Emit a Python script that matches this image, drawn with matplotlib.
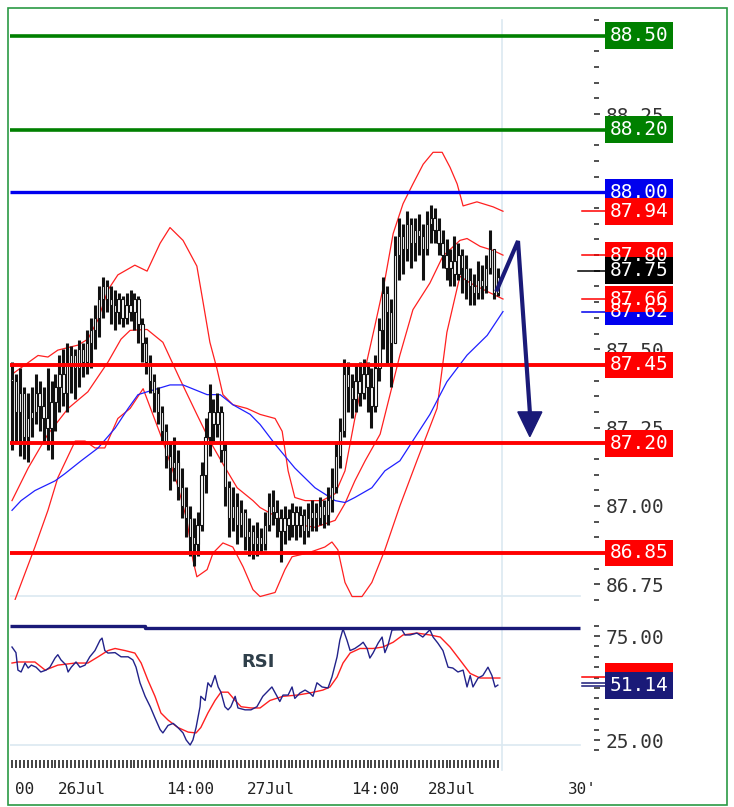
import numpy as np
import matplotlib
matplotlib.use('Agg')
import matplotlib.pyplot as plt
from matplotlib.patches import Rectangle, Polygon
from matplotlib.lines import Line2D
import matplotlib.transforms as mtransforms

plt.rcParams['font.family'] = ['DejaVu Sans Mono', 'DejaVu Sans']

# 30 minute bars, index 0 .. 123
closes = [87.40, 87.30, 87.36, 87.22, 87.28, 87.30, 87.36, 87.32, 87.28, 87.25,
          87.33, 87.38, 87.42, 87.36, 87.45, 87.48, 87.44, 87.50, 87.46, 87.52,
          87.56, 87.60, 87.66, 87.70, 87.66, 87.64, 87.62, 87.66, 87.60, 87.64,
          87.62, 87.66, 87.58, 87.52, 87.46, 87.40, 87.36, 87.30, 87.24, 87.16,
          87.12, 87.14, 87.06, 87.00, 86.96, 86.90, 86.88, 86.94, 87.10, 87.22,
          87.30, 87.26, 87.30, 87.18, 87.06, 86.96, 87.00, 86.94, 86.98, 86.90,
          86.92, 86.88, 86.90, 86.88, 86.94, 87.00, 86.98, 86.96, 86.92, 86.96,
          86.94, 86.98, 86.94, 86.97, 86.92, 86.96, 86.98, 86.96, 87.00, 86.97,
          87.02, 87.06, 87.16, 87.24, 87.42, 87.38, 87.34, 87.40, 87.36, 87.42,
          87.38, 87.32, 87.44, 87.56, 87.68, 87.62, 87.52, 87.80, 87.86, 87.82,
          87.90, 87.84, 87.88, 87.86, 87.82, 87.90, 87.92, 87.88, 87.84, 87.80,
          87.76, 87.78, 87.74, 87.80, 87.76, 87.72, 87.70, 87.68, 87.72, 87.70,
          87.76, 87.82, 87.68, 87.73]
highs = [87.46, 87.42, 87.44, 87.38, 87.36, 87.38, 87.42, 87.40, 87.38, 87.44,
         87.40, 87.42, 87.48, 87.50, 87.52, 87.51, 87.50, 87.53, 87.52, 87.56,
         87.60, 87.64, 87.70, 87.73, 87.72, 87.70, 87.69, 87.68, 87.67, 87.68,
         87.69, 87.68, 87.67, 87.60, 87.54, 87.48, 87.42, 87.38, 87.32, 87.26,
         87.20, 87.22, 87.18, 87.12, 87.06, 87.00, 86.96, 86.98, 87.14, 87.28,
         87.39, 87.34, 87.36, 87.32, 87.20, 87.08, 87.06, 87.04, 87.02, 86.99,
         86.96, 86.94, 86.95, 86.93, 86.98, 87.04, 87.05, 87.02, 86.99, 87.00,
         86.99, 87.01, 87.00, 87.00, 86.99, 87.01, 87.02, 87.01, 87.03, 87.02,
         87.06, 87.12, 87.20, 87.28, 87.47, 87.46, 87.42, 87.45, 87.46, 87.47,
         87.46, 87.44, 87.48, 87.60, 87.73, 87.70, 87.66, 87.86, 87.92, 87.90,
         87.94, 87.92, 87.92, 87.93, 87.90, 87.94, 87.96, 87.95, 87.92, 87.88,
         87.85, 87.82, 87.86, 87.84, 87.82, 87.80, 87.76, 87.74, 87.78, 87.77,
         87.80, 87.88, 87.80, 87.76]
lows = [87.18, 87.20, 87.16, 87.15, 87.14, 87.22, 87.26, 87.24, 87.20, 87.18,
        87.15, 87.24, 87.30, 87.32, 87.30, 87.36, 87.34, 87.38, 87.41, 87.42,
        87.44, 87.50, 87.54, 87.60, 87.62, 87.58, 87.56, 87.58, 87.57, 87.58,
        87.59, 87.56, 87.52, 87.46, 87.42, 87.36, 87.30, 87.26, 87.20, 87.12,
        87.05, 87.08, 87.02, 86.96, 86.90, 86.84, 86.81, 86.84, 86.92, 87.04,
        87.16, 87.20, 87.22, 87.14, 87.00, 86.90, 86.92, 86.88, 86.90, 86.86,
        86.84, 86.83, 86.84, 86.85, 86.86, 86.92, 86.94, 86.90, 86.82, 86.88,
        86.89, 86.90, 86.89, 86.90, 86.88, 86.90, 86.92, 86.92, 86.94, 86.93,
        86.94, 86.98, 87.04, 87.12, 87.22, 87.30, 87.28, 87.30, 87.32, 87.34,
        87.30, 87.25, 87.30, 87.40, 87.50, 87.45, 87.38, 87.52, 87.72, 87.74,
        87.78, 87.76, 87.78, 87.80, 87.72, 87.80, 87.84, 87.84, 87.80, 87.76,
        87.72, 87.70, 87.70, 87.72, 87.68, 87.66, 87.64, 87.64, 87.66, 87.66,
        87.68, 87.74, 87.66, 87.67]

# bollinger bands and moving average, read at bar positions
bb_up_x = [0, 6.6, 9.1, 11.6, 16.7, 19.2, 21.8, 24.3, 26.8, 31.1, 34.2, 37.5, 40, 43.3,
           46.8, 48.4, 50.1, 51.9, 53.4, 55.9, 59.5, 62.8, 66.6, 68.4, 69.9, 71.6, 74.2,
           78.5, 81.8, 84.3, 86.8, 89.4, 91.9, 94.4, 96.5, 99, 101.5, 104.1, 106.6,
           108.9, 110.9, 112.7, 114.2, 117.7, 121.8, 124.3]
bb_up = [87.42, 87.48, 87.475, 87.497, 87.513, 87.532, 87.595, 87.689, 87.737, 87.768,
         87.749, 87.838, 87.888, 87.847, 87.765, 87.648, 87.522, 87.437, 87.355, 87.323,
         87.311, 87.292, 87.279, 87.238, 87.112, 87.027, 87.017, 87.017, 87.039, 87.112,
         87.279, 87.437, 87.576, 87.721, 87.869, 87.964, 88.027, 88.09, 88.128, 88.128,
         88.08, 88.027, 87.957, 87.97, 87.954, 87.94]
bb_mid_x = [0, 4.1, 9.1, 14.2, 19.2, 24.3, 27.6, 29.9, 34.2, 38.2, 42.5, 46.8, 50.1,
            53.4, 57, 61, 62.8, 69.9, 76.7, 81.8, 84.3, 86.8, 89.4, 93.2, 98.2, 101.5,
            105.8, 109.1, 113.4, 115.2, 118.5, 121.8, 124.3]
bb_mid = [87.017, 87.121, 87.229, 87.311, 87.364, 87.459, 87.532, 87.56, 87.563,
          87.522, 87.405, 87.292, 87.207, 87.134, 87.058, 87.017, 86.995, 86.945,
          86.932, 86.954, 87.008, 87.08, 87.144, 87.229, 87.481, 87.626, 87.711,
          87.797, 87.847, 87.853, 87.828, 87.815, 87.80]
bb_low_x = [0.8, 5.8, 9.1, 11.6, 16, 18.5, 21, 23.5, 26.8, 29.9, 33.2, 38.2, 41.8, 44.3,
            45.8, 46.8, 49.4, 50.9, 53.4, 55.9, 58.5, 61, 62.8, 66.6, 69.1, 70.9, 74.9,
            79.2, 81, 82.5, 84.3, 86.1, 88.6, 91.1, 94.4, 98.2, 102.5, 107.6, 110.1,
            113.4, 116, 121, 124.3]
bb_low = [86.702, 86.869, 86.986, 87.09, 87.207, 87.207, 87.185, 87.185, 87.279, 87.311,
          87.374, 87.207, 87.071, 86.954, 86.828, 86.774, 86.797, 86.85, 86.882, 86.869,
          86.806, 86.733, 86.711, 86.724, 86.797, 86.838, 86.85, 86.869, 86.885, 86.86,
          86.756, 86.711, 86.711, 86.756, 86.86, 87.0, 87.144, 87.311, 87.554, 87.733,
          87.711, 87.68, 87.66]
ma_x = [0, 2.3, 5.8, 10.9, 13.4, 17.5, 21.8, 26.1, 29.4, 31.9, 34.2, 40, 43.3, 49.4,
        52.7, 55.9, 60.3, 62.8, 66.6, 71.6, 76.7, 81.8, 84.3, 86.8, 91.1, 94.4, 98.2,
        105.8, 110.1, 115.2, 120.3, 124.3]
ma = [86.986, 87.017, 87.049, 87.08, 87.103, 87.144, 87.185, 87.248, 87.311, 87.355,
      87.364, 87.386, 87.386, 87.355, 87.355, 87.323, 87.292, 87.26, 87.197, 87.121,
      87.058, 87.017, 87.011, 87.027, 87.058, 87.112, 87.144, 87.292, 87.396, 87.481,
      87.544, 87.62]

# RSI (blue) and its average (red)
rsi_x = [0, 1, 1.5, 2.3, 3.3, 4.1, 4.9, 6.1, 7.3, 8.6, 9.6, 10.9, 11.6, 12.4, 13.7, 14.2,
         15, 16.2, 17.2, 18.5, 19.7, 21, 22.3, 22.8, 23.5, 24.3, 26.1, 27.6, 29.4, 30.6,
         31.4, 32.4, 33.7, 35, 36.2, 37.5, 38.2, 39.5, 40.8, 42, 43.3, 44.1, 45.1, 45.8,
         46.6, 47.6, 47.8, 48.9, 49.6, 50.4, 51.4, 52.2, 52.9, 53.9, 54.7, 55.4, 56.5,
         57.2, 59, 60.5, 62, 63.5, 65.8, 67.1, 67.8, 68.6, 69.9, 70.9, 71.6, 72.9, 74.2,
         75.4, 76.2, 77.2, 78.5, 80, 81, 82.3, 83, 83.8, 84.8, 85.6, 86.8, 88.1, 88.9,
         89.9, 90.6, 91.4, 92.7, 93.7, 94.4, 95.2, 96.2, 97.5, 98.7, 99.5, 100.8, 102.5,
         104, 105.8, 106.6, 107.8, 109.1, 110.4, 111.6, 112.9, 114.2, 115.2, 116, 116.7,
         118, 119.2, 120.5, 121.5, 122.3, 123]
rsi = [69.7, 67, 58.6, 57.7, 62, 59.6, 61, 60, 57.7, 58.6, 60, 64.4, 66, 63.5, 61, 57.7,
       60, 62.5, 60, 61, 65, 68, 73, 74, 68, 66.8, 67, 65, 65, 63.5,
       60, 52.5, 46, 41, 35.6, 30, 28.4, 32, 33, 31, 28.4, 25, 22.6, 25,
       31, 41, 46, 44, 52.5, 50.5, 56, 50.5, 48, 41, 39.5, 41, 46,
       40.4, 39.5, 39.5, 41, 46, 50.5, 46, 43.5, 46.6, 46.6, 50.5, 45, 47.6, 49,
       47.6, 46, 52.5, 50.5, 50, 55.3, 65, 73, 78.4, 73, 68, 69, 70.7, 72,
       69, 64.4, 66.8, 71.6, 74.5, 67, 70.7, 77.9, 78, 78, 75.5, 75.5, 76.4,
       74.5, 78, 74.5, 71.6, 68, 60, 59.6, 57.7, 58.6, 50.5, 56, 50.5,
       54.8, 56, 60, 56, 50.5, 51.4]
rsi_avg_x = [0, 1.5, 5.8, 8.4, 11.6, 16, 19.2, 21.8, 24.3, 26.1, 28.6, 31.1, 32.7, 34.4,
             36.2, 37.7, 39.5, 42, 44.6, 46.6, 47.8, 49.6, 51.4, 52.9, 54.7, 56.5, 58,
             60.5, 62.8, 65.3, 68.6, 72.2, 75.4, 78.7, 80.5, 82.3, 83.8, 85.6, 88.1, 91.4,
             93.9, 96.5, 99, 102.5, 105.8, 108.4, 110.9, 113.4, 116, 118.5, 121, 123.5]
rsi_avg = [62, 62.5, 62.5, 58.6, 61, 62, 62, 65, 68, 69, 68, 66.8, 62, 53.8,
           46, 38, 34.6, 31, 28.8, 28.4, 31, 38, 44, 48, 48, 44, 41,
           40.4, 40.4, 44, 46, 46.6, 47.6, 49, 50.5, 55.3, 62, 66.8, 69, 69,
           69.7, 72, 75.5, 76.4, 75.5, 74.5, 69.7, 63.5, 57, 54.8, 54.8, 54.8]

# price levels with their label colours
full_levels = [88.50, 88.20, 88.00, 87.45, 87.20, 86.85]
full_colors = ['#008000', '#008000', '#0000ee', '#ff0000', '#ff0000', '#ff0000']
full_widths = [2.6, 2.6, 2.4, 2.8, 2.8, 2.8]
short_levels = [87.94, 87.80, 87.75, 87.62, 87.66]
short_colors = ['#ff0000', '#ff0000', '#000000', '#0000ee', '#ff0000']

x_labels = ['00', '26Jul', '14:00', '27Jul', '14:00', '28Jul', "30'"]
x_label_pos = [3.3, 17.7, 45.0, 65.6, 91.9, 111.4, 144.3]

# forecast arrow path
arrow_x = [122.8, 128.1, 131.1]
arrow_y = [87.69, 87.845, 87.30]

W, H = 734, 807
NAVY = '#1a1a78'
LIGHT = '#dce9f1'


def px2i(px):
    # pixel column -> bar index
    return (px - 12) / 3.95


def label_box(ax, y, text, color, h, zorder=6):
    x0 = px2i(605)
    w = px2i(673) - x0
    ax.add_patch(Rectangle((x0, y - h / 2), w, h, facecolor=color, edgecolor='none',
                           clip_on=False, zorder=zorder))
    if text:
        ax.text(x0 + w / 2, y, text, color='white', ha='center', va='center',
                fontsize=14, clip_on=False, zorder=zorder + 1)


def draw_price(ax):
    n = len(closes)
    opens = [closes[0]] + closes[:-1]
    for i in range(n):
        ax.plot([i, i], [lows[i], highs[i]], color='#111111', lw=2.2, zorder=3,
                solid_capstyle='butt')
        lo, hi = min(opens[i], closes[i]), max(opens[i], closes[i])
        ax.add_patch(Rectangle((i - 0.3, lo), 0.6, max(hi - lo, 0.004),
                               facecolor='white', edgecolor='#111111', lw=0.8, zorder=4))

    ax.plot(bb_up_x, bb_up, color='#ff2020', lw=0.9, zorder=2)
    ax.plot(bb_mid_x, bb_mid, color='#ff2020', lw=0.9, zorder=2)
    ax.plot(bb_low_x, bb_low, color='#ff2020', lw=0.9, zorder=2)
    ax.plot(ma_x, ma, color='#2020ff', lw=0.9, zorder=2)

    x_end = px2i(605)
    for lv, c, w in zip(full_levels, full_colors, full_widths):
        ax.plot([-0.6, x_end], [lv, lv], color=c, lw=w, clip_on=False, zorder=5,
                solid_capstyle='butt')
    for lv, c in zip(short_levels, short_colors):
        x0 = px2i(578) if c == '#000000' else px2i(582)
        ax.plot([x0, x_end], [lv, lv], color=c, lw=1.1, clip_on=False, zorder=5)

    h = 27 / 317.0
    for lv, c in zip(full_levels, full_colors):
        label_box(ax, lv, '%.2f' % lv, c, h)
    for lv, c in zip(short_levels, short_colors):
        label_box(ax, lv, '%.2f' % lv, c, h)

    # arrow
    ax.plot(arrow_x, arrow_y, color=NAVY, lw=3.0, zorder=6, solid_joinstyle='miter')
    hw = (px2i(542) - px2i(518)) / 2
    tip = arrow_y[-1] - 25 / 317.0
    ax.add_patch(Polygon([[arrow_x[-1] - hw, arrow_y[-1]], [arrow_x[-1] + hw, arrow_y[-1]],
                          [arrow_x[-1], tip]], closed=True, facecolor=NAVY,
                         edgecolor=NAVY, zorder=6))

    ax.axhline(86.712, xmin=0, xmax=(580 - 10) / 584, color=LIGHT, lw=1.2, zorder=1)

    ax.set_xlim(px2i(10), px2i(594))
    ax.set_ylim(88.5 - 570 / 317.0, 88.5 + 10 / 317.0)
    ax.yaxis.tick_right()
    ticks = [86.75, 87.00, 87.25, 87.50, 87.75, 88.00, 88.25, 88.50]
    ax.set_yticks(ticks)
    ax.set_yticklabels(['%.2f' % v for v in ticks])
    ax.set_yticks(np.arange(86.70, 88.56, 0.05), minor=True)
    ax.tick_params(axis='y', which='major', length=4.5, width=1.2, pad=4,
                   labelsize=14, labelcolor='#333333', colors='#333333')
    ax.tick_params(axis='y', which='minor', length=3.5, width=1.2, colors='#333333')
    ax.tick_params(axis='x', bottom=False, labelbottom=False)
    for s in ax.spines.values():
        s.set_visible(False)
    ax.set_facecolor('none')


def draw_rsi(ax):
    ax.plot(rsi_avg_x, rsi_avg, color='#ff2020', lw=1.0, zorder=3)
    ax.plot(rsi_x, rsi, color='#22228a', lw=1.0, zorder=4)

    ax.plot([-0.6, 33.7, 33.7, px2i(580)], [79.8, 79.8, 78.7, 78.7], color=NAVY, lw=2.4,
            zorder=5, solid_capstyle='butt')
    ax.axhline(22.6, xmin=0, xmax=(580 - 10) / 584, color=LIGHT, lw=1.2, zorder=1)

    ax.text(px2i(258), 62.5, 'RSI', family='DejaVu Sans', fontweight='bold', fontsize=13,
            color='#2f3f4a', ha='center', va='center')

    x_end = px2i(605)
    ax.plot([px2i(582), x_end], [55.3, 55.3], color='#ff0000', lw=1.1, clip_on=False)
    ax.plot([px2i(582), x_end], [52.6, 52.6], color=NAVY, lw=1.1, clip_on=False)
    ax.plot([px2i(582), x_end], [51.1, 51.1], color=NAVY, lw=1.1, clip_on=False)
    h = 27 / 2.08
    label_box(ax, 55.3, '', '#ff0000', h, zorder=6)
    label_box(ax, 51.14, '51.14', NAVY, h, zorder=8)

    ax.set_xlim(px2i(10), px2i(594))
    ax.set_ylim(75 - (750.4 - 636) / 2.08, 75 + (636 - 617) / 2.08)
    ax.yaxis.tick_right()
    ax.set_yticks([25, 50, 75])
    ax.set_yticklabels(['25.00', '50.00', '75.00'])
    ax.set_yticks(np.arange(20, 85, 5), minor=True)
    ax.tick_params(axis='y', which='major', length=4.5, width=1.2, pad=4,
                   labelsize=14, labelcolor='#333333', colors='#333333')
    ax.tick_params(axis='y', which='minor', length=3.5, width=1.2, colors='#333333')

    ax.spines['bottom'].set_position(('outward', 7))
    ax.set_xticks(np.arange(0, 124))
    ax.set_xticklabels([])
    ax.tick_params(axis='x', length=5.5, width=1.2, colors='#222222')
    for s in ax.spines.values():
        s.set_visible(False)
    ax.set_facecolor('none')

    trans = mtransforms.blended_transform_factory(ax.transData, ax.figure.transFigure)
    for lab, xp in zip(x_labels, x_label_pos):
        ax.text(xp, (H - 789) / H, lab, transform=trans, ha='center', va='center',
                fontsize=11.5, color='#222222', clip_on=False)


def main():
    fig = plt.figure(figsize=(W / 100, H / 100), dpi=100)
    fig.patch.set_facecolor('white')

    # current bar marker and outer frame
    fig.add_artist(Line2D([502 / W, 502 / W], [(H - 770) / H, (H - 20) / H],
                          color=LIGHT, lw=1.2, zorder=-1))
    fig.add_artist(Rectangle((8 / W, 2 / H), 719 / W, (H - 10) / H, fill=False,
                             edgecolor='#2a9a44', lw=1.2, zorder=10))

    ax = fig.add_axes([10 / W, (H - 600) / H, 584 / W, 580 / H])
    draw_price(ax)

    ax2 = fig.add_axes([10 / W, (H - 750.4) / H, 584 / W, 133.4 / H])
    draw_rsi(ax2)

    fig.savefig('out.png', dpi=100)


if __name__ == "__main__":
    main()
